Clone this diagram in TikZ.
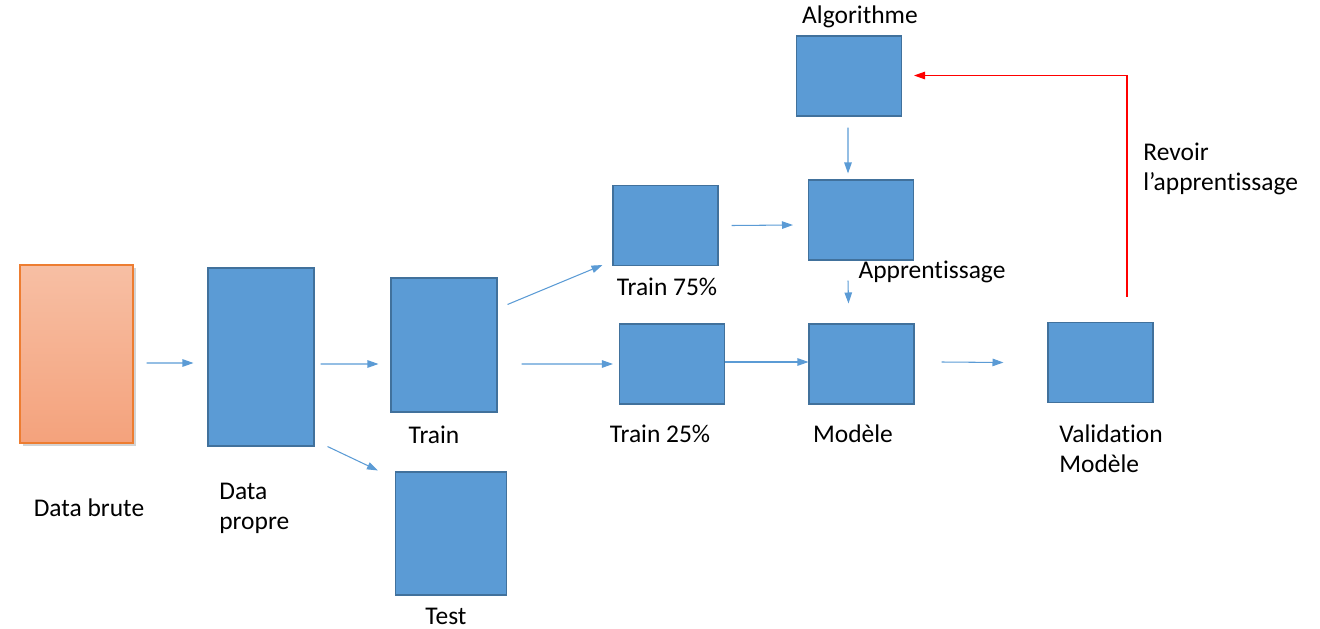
\documentclass[tikz,border=0pt]{standalone}
\usepackage{fontspec}
\setmainfont[Ligatures=NoCommon]{Carlito}
\usepackage{tikz}
\usetikzlibrary{arrows.meta, positioning, shadows}
\definecolor{boxblue}{HTML}{5B9BD5}
\definecolor{boxline}{HTML}{41719C}
\definecolor{rawtop}{HTML}{F7BFA4}
\definecolor{rawbottom}{HTML}{F4A27C}
\definecolor{rawline}{HTML}{ED7D31}
\definecolor{loopred}{HTML}{FF0000}
\tikzset{
    block/.style={rectangle, draw=boxline, fill=boxblue, line width=0.6pt, inner sep=0pt, minimum width=2.1cm, minimum height=1.6cm},
    rawblock/.style={rectangle, draw=rawline, line width=0.6pt, top color=rawtop, bottom color=rawbottom, inner sep=0pt, drop shadow={shadow xshift=0.6mm, shadow yshift=-0.6mm, opacity=0.35}},
    caption/.style={font=\fontsize{14.5}{17}\selectfont, inner sep=0pt, align=left},
    flow/.style={draw=boxblue, line width=0.6pt, -{Triangle[length=2.2mm, width=1.5mm]}},
    loop/.style={draw=loopred, line width=0.6pt, -{Triangle[length=2.2mm, width=1.5mm]}}
}
\begin{document}
\begin{tikzpicture}[x=0.02cm, y=-0.02cm]
    \useasboundingbox (0,0) rectangle (1320,629);

    % boxes
    \node (brute) [rawblock, minimum width=2.26cm, minimum height=3.56cm] at (76.5,354) {};
    \node (propre) [block, minimum width=2.12cm, minimum height=3.56cm] at (261,357) {};
    \node (train) [block, minimum width=2.12cm, minimum height=2.68cm] at (444,345) {};
    \node (test) [block, minimum width=2.22cm, minimum height=2.46cm] at (451,533.5) {};
    \node (t75) [block] at (665.5,225.5) {};
    \node (t25) [block] at (672,364) {};
    \node (algo) [block] at (849,76) {};
    \node (appr) [block] at (861,220) {};
    \node (modele) [block] at (861.5,364) {};
    \node (valid) [block] at (1100.5,362.5) {};

    % captions
    \node (lbrute) [caption] at (89,508) {Data brute};
    \node (lpropre) [caption, anchor=west] at (219,508) {Data\\propre};
    \node (ltrain) [caption] at (434,435) {Train};
    \node (ltest) [caption] at (446,616) {Test};
    \node (lt75) [caption] at (667,287) {Train 75\%};
    \node (lt25) [caption] at (660,434) {Train 25\%};
    \node (lalgo) [caption] at (860,17) {Algorithme};
    \node (lappr) [caption] at (932,272) {Apprentissage};
    \node (lmodele) [caption] at (853,434) {Modèle};
    \node (lvalid) [caption, anchor=west] at (1059,449) {Validation\\Modèle};
    \node (lrevoir) [caption, anchor=west] at (1143,169) {Revoir\\l’apprentissage};

    % connectors
    \draw [flow] ([shift={(2.6mm,-1.8mm)}]brute.east) -- ([shift={(-2.8mm,-1.2mm)}]propre.west);
    \draw [flow] ([shift={(1.2mm,-1.4mm)}]propre.east) -- ([shift={(-2.4mm,-3.8mm)}]train.west);
    \draw [flow] ([shift={(2.6mm,0mm)}]propre.south east) -- ([shift={(-3.4mm,0.2mm)}]test.north west);
    \draw [flow] ([shift={(2mm,-5.4mm)}]train.north east) -- ([shift={(-2mm,0.2mm)}]t75.south west);
    \draw [flow] ([shift={(4.8mm,-3.8mm)}]train.east) -- ([shift={(-1.2mm,0mm)}]t25.west);
    \draw [flow] ([shift={(2.6mm,0mm)}]t75.east) -- ([shift={(-3mm,-1mm)}]appr.west);
    \draw [flow] ([shift={(0mm,0.4mm)}]t25.east) -- ([shift={(0mm,0.4mm)}]modele.west);
    \draw [flow] ([shift={(-0.2mm,-2.2mm)}]algo.south) -- ([shift={(-2.6mm,1.2mm)}]appr.north);
    \draw [flow] ([shift={(-2.6mm,-4mm)}]appr.south) -- ([shift={(-2.6mm,4mm)}]modele.north);
    \draw [flow] ([shift={(5.4mm,0.4mm)}]modele.east) -- ([shift={(-8.8mm,0mm)}]valid.west);
    \draw [loop] ([shift={(5.3mm,5mm)}]valid.north) |- ([shift={(2.4mm,0.1mm)}]algo.east);
\end{tikzpicture}
\end{document}
